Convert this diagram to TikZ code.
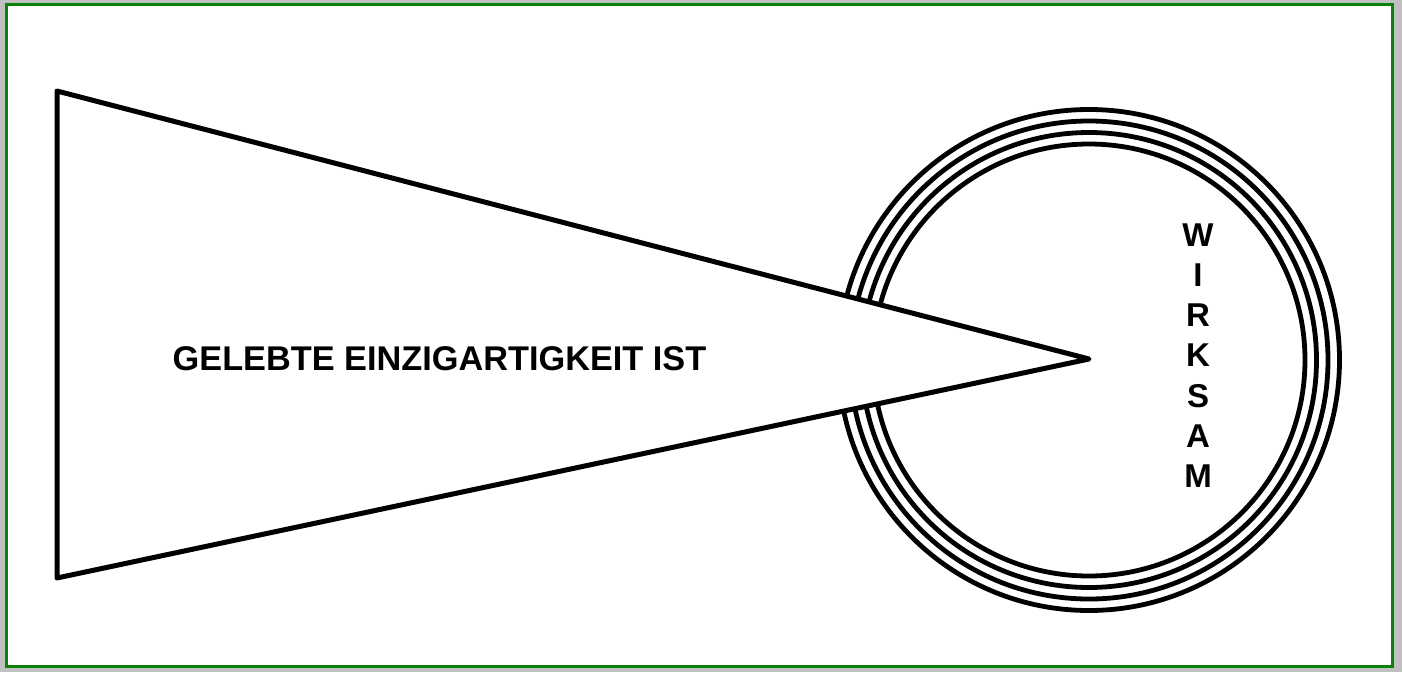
\documentclass[tikz,border=0pt]{standalone}
\usepackage{fontspec}
\setmainfont{Liberation Sans}
\definecolor{bggray}{RGB}{192,192,192}
\definecolor{framegreen}{RGB}{10,130,10}
\begin{document}
\begin{tikzpicture}[x=1pt,y=-1pt,
  ring/.style={draw=black,line width=4.8pt},
  wedge/.style={draw=black,fill=white,line width=5pt,line join=round},
  big/.style={font=\fontsize{34.3}{34.3}\selectfont\bfseries,inner sep=0pt},
  letter/.style={font=\fontsize{33}{33}\selectfont\bfseries,inner sep=0pt,anchor=base}]
\useasboundingbox (0,0) rectangle (1402,672);
\fill[bggray] (0,0) rectangle (1402,672);
\draw[framegreen,fill=white,line width=3pt] (6,4.5) rectangle (1392.5,666.5);
% concentric rings
\coordinate (c) at (1089,360);
\foreach \r in {250.5,239,227.5,216}{
  \draw[ring] (c) circle[radius=\r];
}
% wedge
\coordinate (tl) at (57,91);
\coordinate (bl) at (57,578);
\coordinate (apex) at (1089,359);
\draw[wedge] (tl) -- (apex) -- (bl) -- cycle;
\node[big] (t) at (439.5,359) {GELEBTE EINZIGARTIGKEIT IST};
% vertical word
\foreach \ch [count=\i from 0] in {W,I,R,K,S,A,M}{
  \node[letter] (w\i) at (1198,{246+40.3*\i}) {\ch};
}
\end{tikzpicture}
\end{document}
